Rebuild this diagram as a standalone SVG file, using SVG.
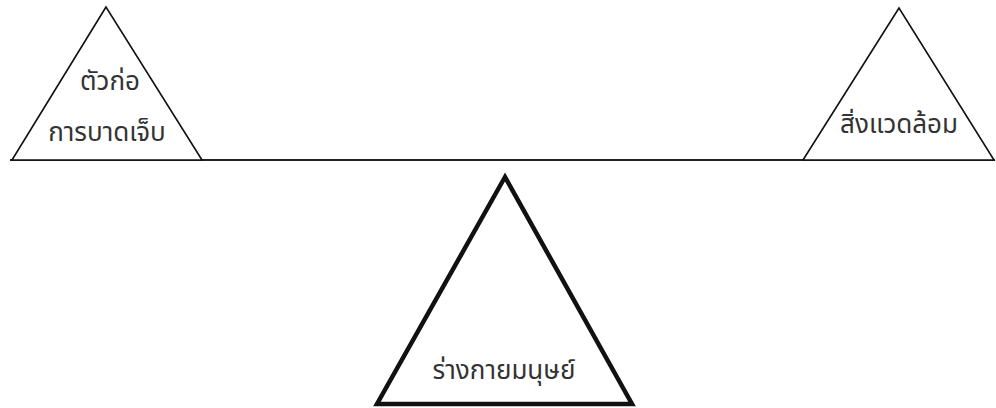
<svg xmlns="http://www.w3.org/2000/svg" width="996" height="408" viewBox="0 0 996 408">
<style>
.tri{fill:#fff;stroke:#111;stroke-linejoin:miter}
.thin{stroke-width:1.6}
.thick{stroke-width:4.5}
text{font-family:"Noto Sans Thai","Noto Sans","DejaVu Sans",sans-serif;font-size:26px;fill:#333;text-anchor:middle}
</style>
<rect width="996" height="408" fill="#fff"/>
<g id="connectors">
<line x1="10" y1="160" x2="995" y2="160" stroke="#222" stroke-width="2"/>
</g>
<g id="node-left">
<polygon class="tri thin" points="106,7 12,160 202,160"/>
<text x="110" y="90">ตัวก่อ</text>
<text x="107" y="141">การบาดเจ็บ</text>
</g>
<g id="node-right">
<polygon class="tri thin" points="899,8 803,160 994,160"/>
<text x="899" y="133">สิ่งแวดล้อม</text>
</g>
<g id="node-center">
<polygon class="tri thick" points="505,177 377,404 632,404"/>
<text x="504" y="379">ร่างกายมนุษย์</text>
</g>
</svg>
